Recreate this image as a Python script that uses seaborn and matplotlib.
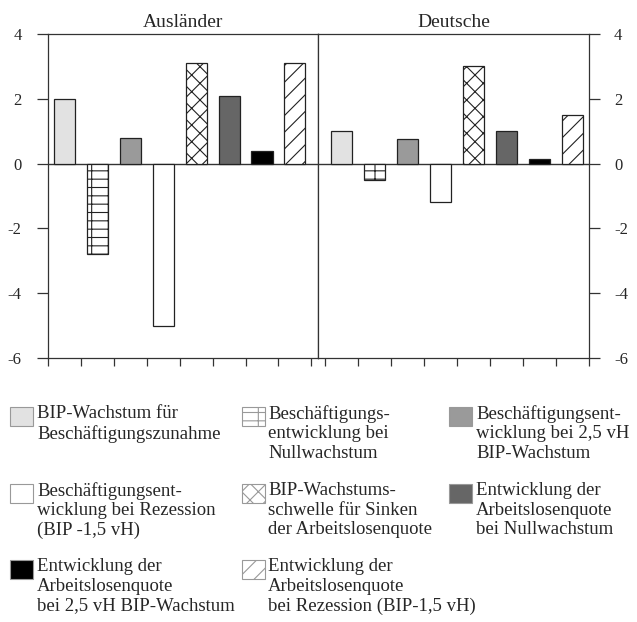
import pandas as pd
import seaborn as sns
from matplotlib import pyplot as plt
from matplotlib.patches import Rectangle

# categories (legend order)
labels = [
    "BIP-Wachstum für\nBeschäftigungszunahme",
    "Beschäftigungs-\nentwicklung bei\nNullwachstum",
    "Beschäftigungsent-\nwicklung bei 2,5 vH\nBIP-Wachstum",
    "Beschäftigungsent-\nwicklung bei Rezession\n(BIP -1,5 vH)",
    "BIP-Wachstums-\nschwelle für Sinken\nder Arbeitslosenquote",
    "Entwicklung der\nArbeitslosenquote\nbei Nullwachstum",
    "Entwicklung der\nArbeitslosenquote\nbei 2,5 vH BIP-Wachstum",
    "Entwicklung der\nArbeitslosenquote\nbei Rezession (BIP-1,5 vH)",
]
cats = ["c1", "c2", "c3", "c4", "c5", "c6", "c7", "c8"]
auslaender = [2.0, -2.8, 0.8, -5.0, 3.1, 2.1, 0.4, 3.1]
deutsche = [1.0, -0.5, 0.75, -1.2, 3.0, 1.0, 0.15, 1.5]
panels = ["Ausländer", "Deutsche"]

colors = ["#e2e2e2", "white", "#9a9a9a", "white", "white", "#666666", "black", "white"]
hatches = [None, "--|", None, None, "xx", None, None, "//"]

df = pd.DataFrame({
    "cat": cats * 2,
    "value": auslaender + deutsche,
    "panel": [panels[0]] * 8 + [panels[1]] * 8,
})

sns.set_style("white")
plt.rcParams["font.family"] = ["Liberation Serif", "DejaVu Serif"]
plt.rcParams["axes.unicode_minus"] = False
plt.rcParams["hatch.linewidth"] = 0.8
plt.rcParams["hatch.color"] = "#333333"

W, H = 637, 622
fig = plt.figure(figsize=(W / 100, H / 100), dpi=100)
ax1 = fig.add_axes([48 / W, 1 - 358 / H, 270 / W, 324 / H])
ax2 = fig.add_axes([318 / W, 1 - 358 / H, 271 / W, 324 / H])

for ax, name in zip([ax1, ax2], panels):
    sub = df[df["panel"] == name]
    sns.barplot(data=sub, x="cat", y="value", hue="cat", palette=colors,
                order=cats, hue_order=cats, width=0.64, legend=False,
                edgecolor="#222222", linewidth=0.9, ax=ax)
    for patch, h in zip(ax.patches, hatches):
        if h:
            patch.set_hatch(h)
    ax.axhline(0, color="#333333", linewidth=1.0, zorder=0.5)
    ax.set_ylim(-6, 4)
    ax.set_yticks([-6, -4, -2, 0, 2, 4])
    ax.set_xticks([i - 0.5 for i in range(9)])
    ax.set_xticklabels([])
    ax.set_xlabel("")
    ax.set_ylabel("")
    ax.set_title(name, fontsize=14, pad=5)
    ax.tick_params(axis="x", direction="out", length=6, width=0.9,
                   color="#333333", bottom=True)
    for s in ax.spines.values():
        s.set_color("#333333")
        s.set_linewidth(0.9)

ax1.set_xlim(-0.5, 7.7)
ax2.set_xlim(-0.7, 7.5)
ax2.yaxis.tick_right()
ax1.tick_params(axis="y", left=True, right=False, direction="out", length=8,
                width=0.9, color="#333333", labelsize=12, pad=11)
ax2.tick_params(axis="y", left=False, right=True, labelleft=False,
                labelright=True, direction="out", length=8, width=0.9,
                color="#333333", labelsize=12, pad=10)

# legend, three columns filled row by row, box at the first line
col_box = [10, 242, 449]
col_text = [37, 268, 476]
row_top = [407, 484, 560]
for i, (lab, c, h) in enumerate(zip(labels, colors, hatches)):
    r, k = divmod(i, 3)
    fig.add_artist(Rectangle((col_box[k] / W, 1 - (row_top[r] + 19) / H),
                             23 / W, 19 / H, transform=fig.transFigure,
                             facecolor=c, edgecolor="#999999", hatch=h,
                             linewidth=0.8))
    fig.text(col_text[k] / W, 1 - (row_top[r] - 2) / H, lab, ha="left",
             va="top", fontsize=13.5, linespacing=1.2)

plt.savefig("out.png", dpi=100)
plt.close()
